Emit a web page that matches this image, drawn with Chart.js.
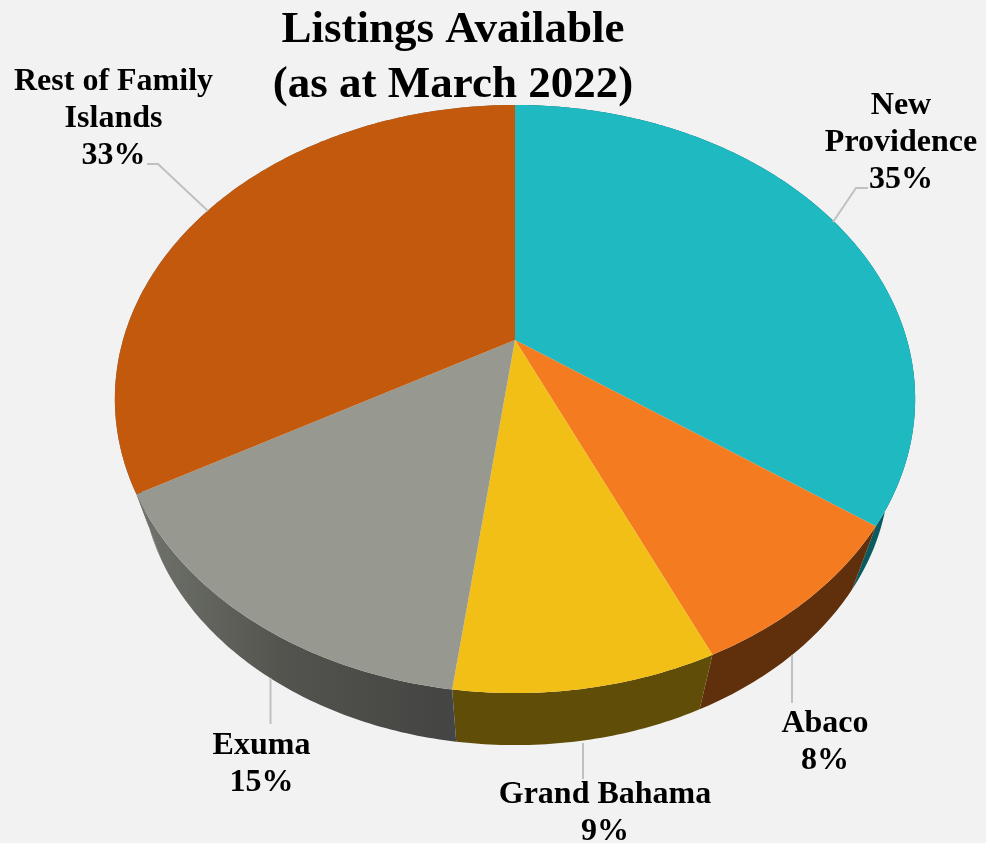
<!DOCTYPE html>
<html>
<head>
<meta charset="utf-8">
<style>
html,body{margin:0;padding:0;background:#f2f2f2;}
canvas{display:block;}
</style>
<script src="https://cdn.jsdelivr.net/npm/chart.js@4"></script>
</head>
<body>
<canvas id="c" width="986" height="843"></canvas>
<script>
const categories = ["New Providence", "Abaco", "Grand Bahama", "Exuma", "Rest of Family Islands"];
const shares = [34.9, 8.35, 8.8, 14.75, 33.2];
const labelLines = [["New", "Providence"], ["Abaco"], ["Grand Bahama"], ["Exuma"], ["Rest of Family", "Islands"]];
const titleLines = ["Listings Available", "(as at March 2022)"];

const faceColors = ["#1fb9c1", "#f47b20", "#f2bf17", "#979990", "#c2590d"];
const wallColors = ["#0b5a60", "#5f300b", "#5f4d08", null, "#70726c"];
const FONT = '"Liberation Serif", serif';

/* perspective view of the pie disc */
const VIEW = {cx: 515, cy: 340, ax: 392, ay: 282.2, tilt: -0.2007, depthY: 75, depthS: 0.935};
function project(a, bottom) {
  const X = Math.cos(a), Y = Math.sin(a), w = 1 + VIEW.tilt * Y;
  const s = bottom ? VIEW.depthS : 1, cy = VIEW.cy + (bottom ? VIEW.depthY : 0);
  return [VIEW.cx + s * VIEW.ax * X / w, cy + s * VIEW.ay * Y / w];
}
function sweep(ctx, a0, a1, bottom, first) {
  const n = Math.max(8, Math.ceil(Math.abs(a1 - a0) * 80));
  for (let i = 0; i <= n; i++) {
    const p = project(a0 + (a1 - a0) * i / n, bottom);
    if (i === 0 && first) ctx.moveTo(p[0], p[1]); else ctx.lineTo(p[0], p[1]);
  }
}

/* label placement: centre x, first-line y, and leader-line path */
const labelPlaces = [
  {x: 901, y: 106, leader: [[868,188],[856,188],[833,222]]},
  {x: 825, y: 724, leader: [[792,655],[792,703]]},
  {x: 605, y: 795, leader: [[583,743],[583,779]]},
  {x: 261.5, y: 746, leader: [[270.5,678],[270.5,724]]},
  {x: 113.5, y: 82,  leader: [[147,164],[158,164],[208,211]]}
];

const pie3d = {
  id: 'pie3d',
  beforeDatasetsDraw(chart) {
    const ctx = chart.ctx, arcs = chart.getDatasetMeta(0).data;
    ctx.save();
    // side walls
    arcs.forEach((arc, i) => {
      ctx.beginPath();
      sweep(ctx, arc.startAngle, arc.endAngle, false, true);
      sweep(ctx, arc.endAngle, arc.startAngle, true, false);
      ctx.closePath();
      if (wallColors[i]) {
        ctx.fillStyle = wallColors[i];
      } else {
        const g = ctx.createLinearGradient(140, 0, 456, 0);
        g.addColorStop(0, "#70726c");
        g.addColorStop(0.45, "#53544e");
        g.addColorStop(0.95, "#454643");
        g.addColorStop(1, "#444548");
        ctx.fillStyle = g;
      }
      ctx.fill();
    });
    // top faces
    arcs.forEach((arc, i) => {
      ctx.beginPath();
      ctx.moveTo(VIEW.cx, VIEW.cy);
      sweep(ctx, arc.startAngle, arc.endAngle, false, false);
      ctx.closePath();
      ctx.fillStyle = faceColors[i];
      ctx.fill();
    });
    // leader lines
    ctx.strokeStyle = "#c0c0c0";
    ctx.lineWidth = 2;
    labelPlaces.forEach(p => {
      ctx.beginPath();
      p.leader.forEach((q, k) => k ? ctx.lineTo(q[0], q[1]) : ctx.moveTo(q[0], q[1]));
      ctx.stroke();
    });
    // labels
    ctx.fillStyle = "#000";
    ctx.font = 'bold 32px ' + FONT;
    ctx.textAlign = "center";
    ctx.textBaseline = "middle";
    labelPlaces.forEach((p, i) => {
      const lines = labelLines[i].concat(Math.round(shares[i]) + "%");
      lines.forEach((t, k) => ctx.fillText(t, p.x, p.y + k * 37));
    });
    ctx.restore();
    return false;
  }
};

new Chart(document.getElementById('c'), {
  type: 'pie',
  data: {labels: categories, datasets: [{data: shares, backgroundColor: faceColors, borderWidth: 0}]},
  options: {
    responsive: false,
    animation: false,
    layout: {padding: {right: 80, top: 3}},
    plugins: {
      legend: {display: false},
      tooltip: {enabled: false},
      title: {
        display: true,
        text: titleLines,
        color: "#000",
        align: 'center',
        padding: 0,
        font: {family: FONT, size: 45, weight: 'bold', lineHeight: 1.222}
      }
    }
  },
  plugins: [pie3d]
});
</script>
</body>
</html>
